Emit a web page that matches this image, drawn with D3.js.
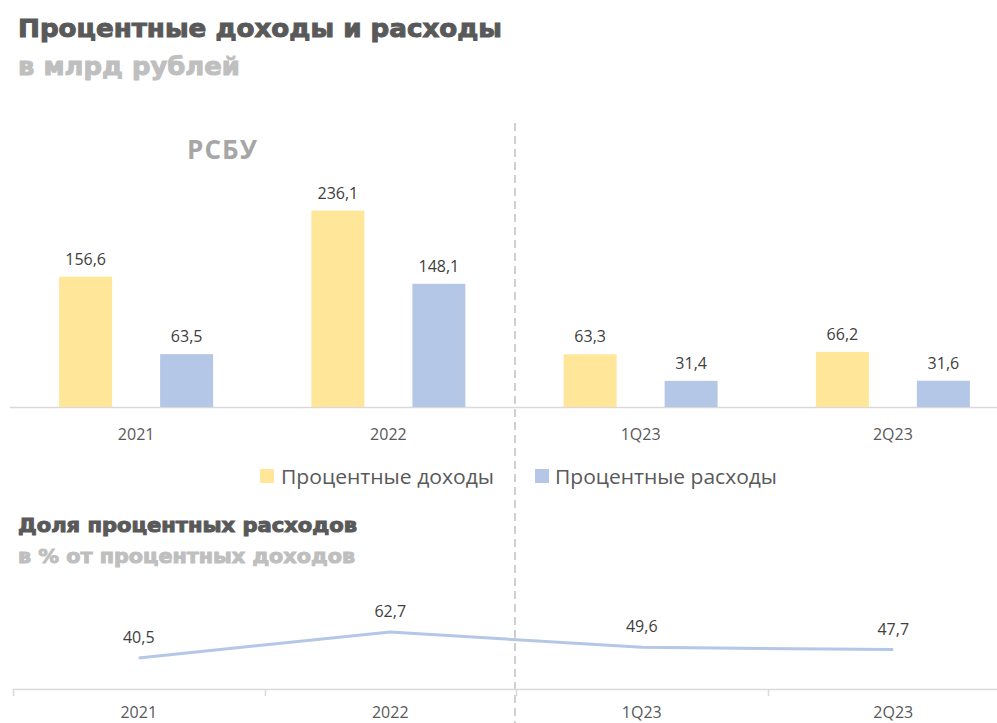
<!DOCTYPE html>
<html><head><meta charset="utf-8">
<script src="https://cdn.jsdelivr.net/npm/d3@7"></script>
<style>body{margin:0;background:#fff}svg{display:block}</style>
</head><body>
<script>
const categories = ["2021", "2022", "1Q23", "2Q23"];
const incomeValues = [156.6, 236.1, 63.3, 66.2];
const expenseValues = [63.5, 148.1, 31.4, 31.6];
const shareValues = [40.5, 62.7, 49.6, 47.7];
const seriesNames = ["Процентные доходы", "Процентные расходы"];
const colors = ["#ffe699", "#b4c7e7"];
const fmt = v => d3.format(".1f")(v).replace(".", ",");

const W = 997, H = 723;
const svg = d3.select("body").append("svg").attr("width", W).attr("height", H)
  .style("font-family", "'Open Sans', 'Noto Sans', sans-serif");

// Titles
function heavy(sel, len){ return sel.attr("font-family","'DejaVu Sans', sans-serif").attr("font-weight",700)
  .attr("stroke-width",1).attr("paint-order","stroke").attr("textLength",len).attr("lengthAdjust","spacingAndGlyphs"); }
heavy(svg.append("text").attr("x",18).attr("y",37).attr("font-size",25).attr("fill","#595959").attr("stroke","#595959").text("Процентные доходы и расходы"), 484);
heavy(svg.append("text").attr("x",18).attr("y",75).attr("font-size",25).attr("fill","#bfbfbf").attr("stroke","#bfbfbf").text("в млрд рублей"), 222);
heavy(svg.append("text").attr("x",18).attr("y",532).attr("font-size",19).attr("fill","#595959").attr("stroke","#595959").text("Доля процентных расходов"), 339);
heavy(svg.append("text").attr("x",18).attr("y",563).attr("font-size",19).attr("fill","#bfbfbf").attr("stroke","#bfbfbf").text("в % от процентных доходов"), 337);

svg.append("text").attr("x",187).attr("y",159).attr("font-size",26).attr("font-weight",700)
  .attr("fill","#a6a6a6").attr("textLength",70).text("РСБУ");

// Bar chart
const x = d3.scaleBand().domain(categories).range([10, 1019]).paddingInner(0).paddingOuter(0);
const baseY = 407;
const y = d3.scaleLinear().domain([0, 250]).range([baseY, baseY - 250*0.832]);
const barW = 53;
const sx = i => (i===0 ? -50.5 : 50.5);

svg.append("line").attr("x1",10).attr("x2",997).attr("y1",baseY+0.5).attr("y2",baseY+0.5)
  .attr("stroke","#d9d9d9").attr("stroke-width",1.5);

[incomeValues, expenseValues].forEach((vals, si) => {
  const g = svg.append("g");
  g.selectAll("rect").data(vals).join("rect")
    .attr("x",(d,i)=> x(categories[i]) + x.bandwidth()/2 + sx(si) - barW/2)
    .attr("width",barW)
    .attr("y",d=>y(d)).attr("height",d=>baseY - y(d))
    .attr("fill",colors[si]);
  g.selectAll("text").data(vals).join("text")
    .attr("x",(d,i)=> x(categories[i]) + x.bandwidth()/2 + sx(si))
    .attr("y",d=>y(d) - 12)
    .attr("text-anchor","middle").attr("font-size",16).attr("fill","#404040")
    .text(fmt);
});
svg.append("g").selectAll("text").data(categories).join("text")
  .attr("x",d=>x(d)+x.bandwidth()/2).attr("y",440)
  .attr("text-anchor","middle").attr("font-size",16).attr("fill","#595959").text(d=>d);

// Legend
const leg = [{x:260,tx:281,len:213},{x:535,tx:555,len:222}];
seriesNames.forEach((n,i)=>{
  svg.append("rect").attr("x",leg[i].x).attr("y",469).attr("width",14).attr("height",14).attr("fill",colors[i]);
  svg.append("text").attr("x",leg[i].tx).attr("y",484).attr("font-size",20.5).attr("fill","#595959")
    .attr("textLength",leg[i].len).attr("lengthAdjust","spacingAndGlyphs").text(n);
});

// Dashed separator
svg.append("line").attr("x1",515).attr("x2",515).attr("y1",123).attr("y2",723)
  .attr("stroke","#d0d0d0").attr("stroke-width",2).attr("stroke-dasharray","8,5");

// Line chart
const x2 = d3.scaleBand().domain(categories).range([13, 1019]);
const y2 = d3.scaleLinear().domain([0, 100]).range([705.4, 588.3]);
const axisY = 689;
svg.append("line").attr("x1",13).attr("x2",997).attr("y1",axisY+0.5).attr("y2",axisY+0.5)
  .attr("stroke","#d9d9d9").attr("stroke-width",1.5);
svg.append("g").selectAll("line").data(categories).join("line")
  .attr("x1",d=>Math.round(x2(d))+0.5).attr("x2",d=>Math.round(x2(d))+0.5)
  .attr("y1",axisY).attr("y2",axisY+7).attr("stroke","#d9d9d9").attr("stroke-width",1.5);
const line = d3.line().x((d,i)=>x2(categories[i])+x2.bandwidth()/2).y(d=>y2(d));
svg.append("path").datum(shareValues).attr("d",line).attr("fill","none")
  .attr("stroke","#b4c7e7").attr("stroke-width",3).attr("stroke-linejoin","round");
svg.append("g").selectAll("text").data(shareValues).join("text")
  .attr("x",(d,i)=>x2(categories[i])+x2.bandwidth()/2).attr("y",d=>y2(d)-15)
  .attr("text-anchor","middle").attr("font-size",16).attr("fill","#404040").text(fmt);
svg.append("g").selectAll("text").data(categories).join("text")
  .attr("x",d=>x2(d)+x2.bandwidth()/2).attr("y",718)
  .attr("text-anchor","middle").attr("font-size",16).attr("fill","#595959").text(d=>d);
</script>
</body></html>
